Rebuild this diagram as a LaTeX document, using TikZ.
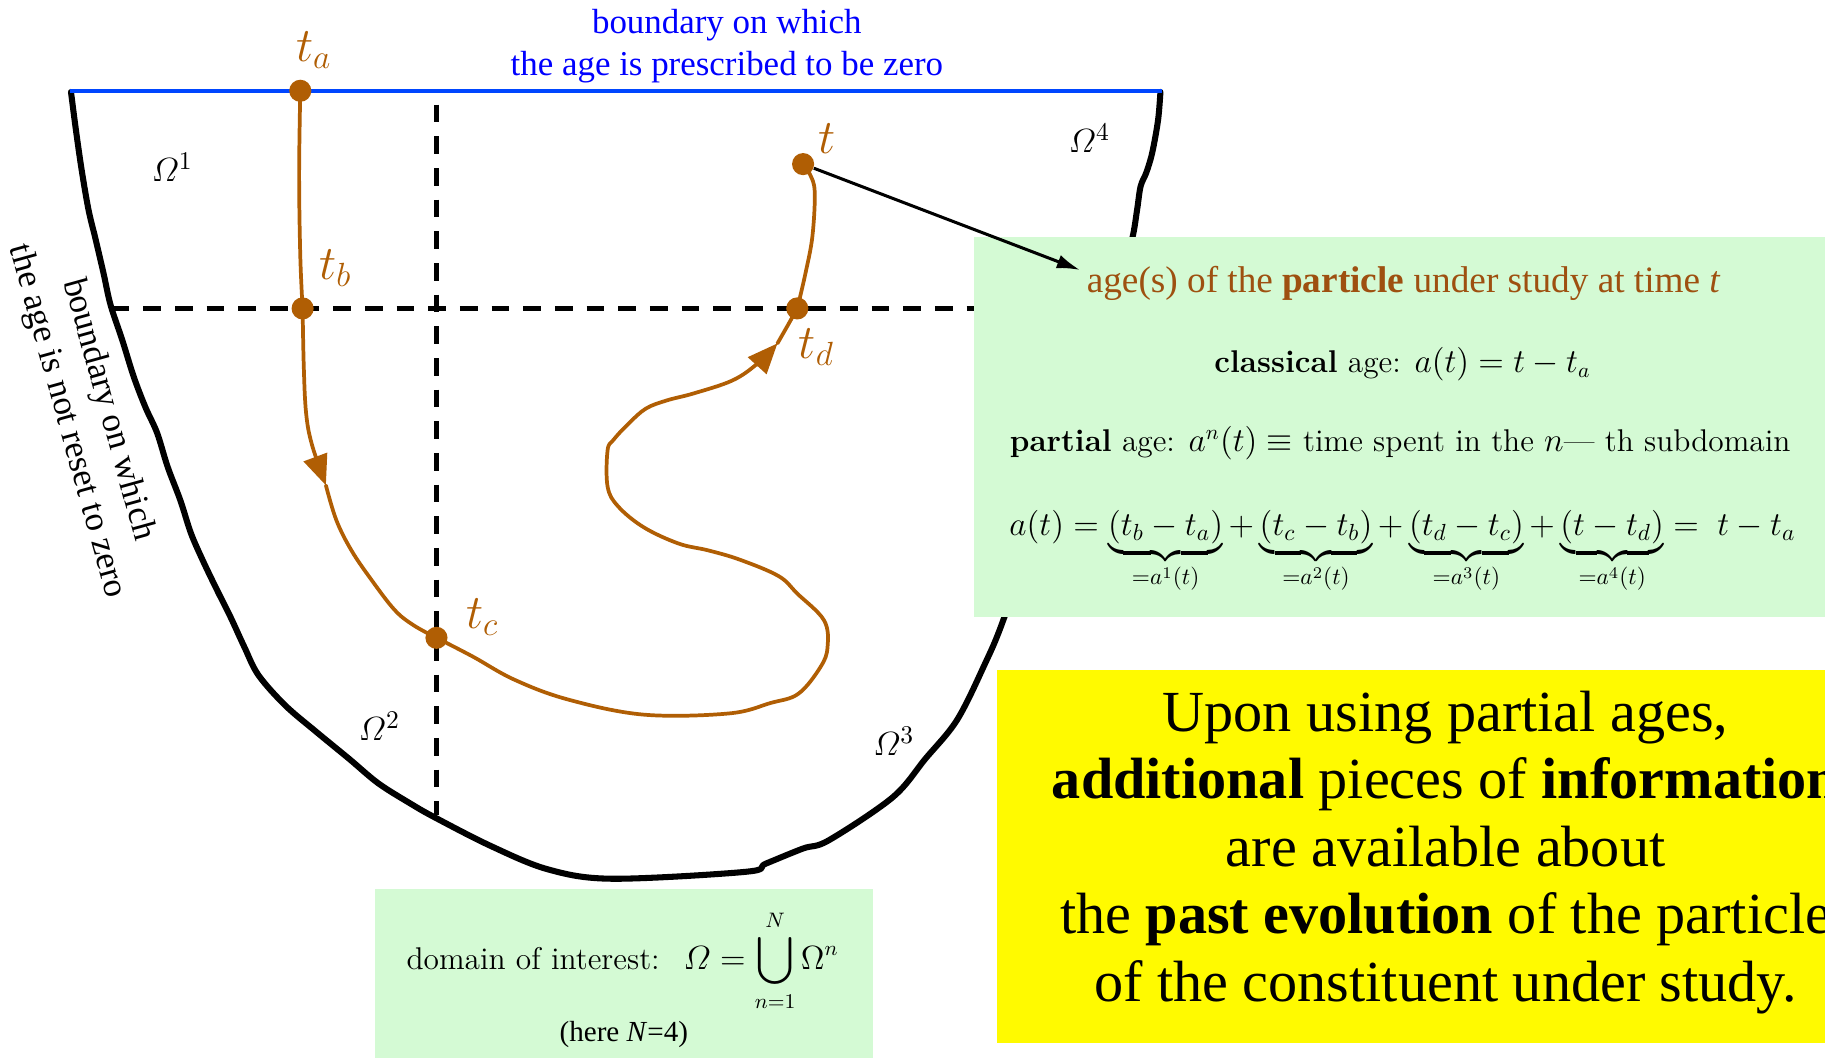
\documentclass[tikz,border=0pt]{standalone}
\usepackage{amsmath}
\usepackage{fontspec}
\newfontfamily\tnr{Liberation Serif}
\usetikzlibrary{arrows.meta}
\definecolor{trajc}{RGB}{176,94,4}
\definecolor{agec}{RGB}{158,80,16}
\definecolor{boxgreen}{RGB}{212,250,212}
\definecolor{boxyellow}{RGB}{255,250,0}
\definecolor{bluetxt}{RGB}{0,0,255}
\definecolor{blueln}{RGB}{0,70,255}
\tikzset{
  dotnode/.style={circle, fill=trajc, inner sep=0pt, minimum size=9.5pt},
  trajline/.style={draw=trajc, line width=1.6pt, line join=round, line cap=round},
  trajtip/.style={-{Triangle[length=13pt,width=10.5pt]}},
  bound/.style={line width=2.6pt, line join=round, line cap=round},
  dashln/.style={line width=1.8pt, dash pattern=on 7.6pt off 6pt},
  tlabel/.style={text=trajc, inner sep=0pt, font=\fontsize{21}{25}\selectfont},
  omlabel/.style={inner sep=0pt, font=\fontsize{15.5}{18}\selectfont},
  txt/.style={inner sep=0pt},
}
\begin{document}
\begin{tikzpicture}[x=0.5pt,y=-0.5pt]
\useasboundingbox (0,0) rectangle (1568,909);
\clip (0,0) rectangle (1568,909);
\fill[white] (0,0) rectangle (1568,909);

% domain boundary
\draw[bound] plot[smooth, tension=0.55] coordinates {
 (61,79) (65,110) (70,145) (76,180) (82,205) (89,235) (95,262) (105,292)
 (115,324) (125,350) (135,372) (144,401) (155,430) (164,458) (174,481)
 (186,506) (198,530) (210,556) (222,580) (245,606) (272,629) (300,652)
 (325,673) (352,690) (373,702) (422,727) (471,747) (526,755) (641,749) (658,742)
 (690,729) (712,722) (767,685) (795,652) (822,619) (845,573) (863,530)
 (900,420) (940,300) (965,230) (973,204) (977,180) (980,160) (985,148)
 (990,131) (995,103) (997,79)};

% subdomain separators
\coordinate (hl) at (96,265);
\coordinate (hr) at (845,265);
\coordinate (vt) at (375,90);
\coordinate (vb) at (375,700);
\draw[dashln] (hl) -- (hr);
\draw[dashln] (vt) -- (vb);

% inflow boundary
\coordinate (bl) at (60,78);
\coordinate (br) at (998,78);
\draw[blueln, line width=1.8pt] (bl) -- (br);

% particle positions
\node[dotnode] (ta) at (258,78) {};
\node[dotnode] (tb) at (260,265) {};
\node[dotnode] (tc) at (375,548) {};
\node[dotnode] (td) at (685,265) {};
\node[dotnode] (tt) at (690,141) {};

\coordinate (arr1) at (280,417);
\coordinate (arr2) at (668,295);

% trajectory
\draw[trajline] plot[smooth, tension=0.6] coordinates {(ta.center) (257,150) (258,220) (tb.center)};
\draw[trajline, trajtip] plot[smooth, tension=0.6] coordinates {(tb.center) (261,315) (263,355) (268,382) (arr1)};
\draw[trajline] plot[smooth, tension=0.6] coordinates {(arr1) (289,447) (302,473) (319,498) (339,524) (355,537) (tc.center)};
\draw[trajline, trajtip] plot[smooth, tension=0.6] coordinates {(tc.center) (406,564) (442,584) (488,601) (553,614) (626,613) (662,604) (686,596) (705,573) (711,556) (708,533) (685,510) (669,495) (636,481) (609,473) (583,467) (553,453) (531,435) (522,418) (522,387) (527,378) (540,364) (555,351) (573,344) (596,338) (629,327) (650,313) (arr2)};
\draw[trajline] plot[smooth, tension=0.6] coordinates {(arr2) (676,281) (td.center)};
\draw[trajline] plot[smooth, tension=0.6] coordinates {(td.center) (692,235) (698,203) (700,165) (696,150) (tt.center)};

% labels of positions
\node[tlabel, anchor=base west] (lta) at (254,53) {$t_a$};
\node[tlabel, anchor=base west] (ltb) at (274,240) {$t_b$};
\node[tlabel, anchor=base west] (ltc) at (400,540) {$t_c$};
\node[tlabel, anchor=base west] (ltd) at (686,308) {$t_d$};
\node[tlabel, anchor=base west] (ltt) at (703,132) {$t$};

% subdomain labels
\node[omlabel, anchor=base west] (om1) at (130,156) {$\varOmega^1$};
\node[omlabel, anchor=base west] (om2) at (308,636) {$\varOmega^2$};
\node[omlabel, anchor=base west] (om3) at (750,649) {$\varOmega^3$};
\node[omlabel, anchor=base west] (om4) at (918,131) {$\varOmega^4$};

% boundary texts
\node[txt, anchor=north, align=center, text=bluetxt, font=\tnr\fontsize{15}{18}\selectfont] (btop) at (624.5,8)
 {boundary on which\\the age is prescribed to be zero};
\node[txt, align=center, rotate=-74.5, font=\tnr\fontsize{15}{18.5}\selectfont] (bleft) at (75,357)
 {boundary on which\\the age is not reset to zero};

% right green box
\node[fill=boxgreen, inner sep=0pt, anchor=north west, minimum width=372pt, minimum height=163.25pt] (gbox) at (836,203.5) {};
\node[txt, anchor=base, text=agec, font=\tnr\fontsize{16}{19}\selectfont] (agetxt) at (1206,251)
 {age(s) of the \textbf{particle} under study at time \textit{t}};
\node[txt, anchor=base, font=\fontsize{13.5}{16}\selectfont] (classical) at (1205,320)
 {\textbf{classical} age: $a(t) = t - t_a$};
\node[txt, anchor=base, font=\fontsize{13.5}{16}\selectfont] (partial) at (1203,388)
 {\textbf{partial} age: $a^n(t) \equiv$ time spent in the $n$— th subdomain};
\node[txt, anchor=base, font=\fontsize{14.5}{17}\selectfont] (sumeq) at (1205,460)
 {$a(t) = \underbrace{(t_b - t_a)}_{=a^1(t)} + \underbrace{(t_c - t_b)}_{=a^2(t)} + \underbrace{(t_d - t_c)}_{=a^3(t)} + \underbrace{(t - t_d)}_{=a^4(t)} = \; t - t_a$};

% yellow box
\node[fill=boxyellow, inner sep=0pt, anchor=north west, minimum width=362pt, minimum height=160.5pt] (ybox) at (856,575) {};
\node[txt, anchor=north, align=center, font=\tnr\fontsize{25}{29}\selectfont] (ytxt) at (1242,593)
 {Upon using partial ages,\\ \textbf{additional} pieces of \textbf{information}\\are available about\\the \textbf{past evolution} of the particle\\of the constituent under study.};

% bottom green box
\node[fill=boxgreen, inner sep=0pt, anchor=north west, minimum width=214pt, minimum height=76pt] (dbox) at (322,763) {};
\node[txt, anchor=base, font=\fontsize{13.5}{16}\selectfont] (domain) at (535,833)
 {domain of interest:~ $\varOmega = \displaystyle\bigcup_{n=1}^{N}\Omega^n$};
\node[txt, anchor=base, font=\tnr\fontsize{12.5}{15}\selectfont] (hereN) at (536,895)
 {(here \textit{N}=4)};

% pointer from t to the box text
\coordinate (arrend) at (928,232);
\draw[line width=1.3pt, -{Latex[length=10pt,width=6pt]}] (tt) -- (arrend);
\end{tikzpicture}
\end{document}
